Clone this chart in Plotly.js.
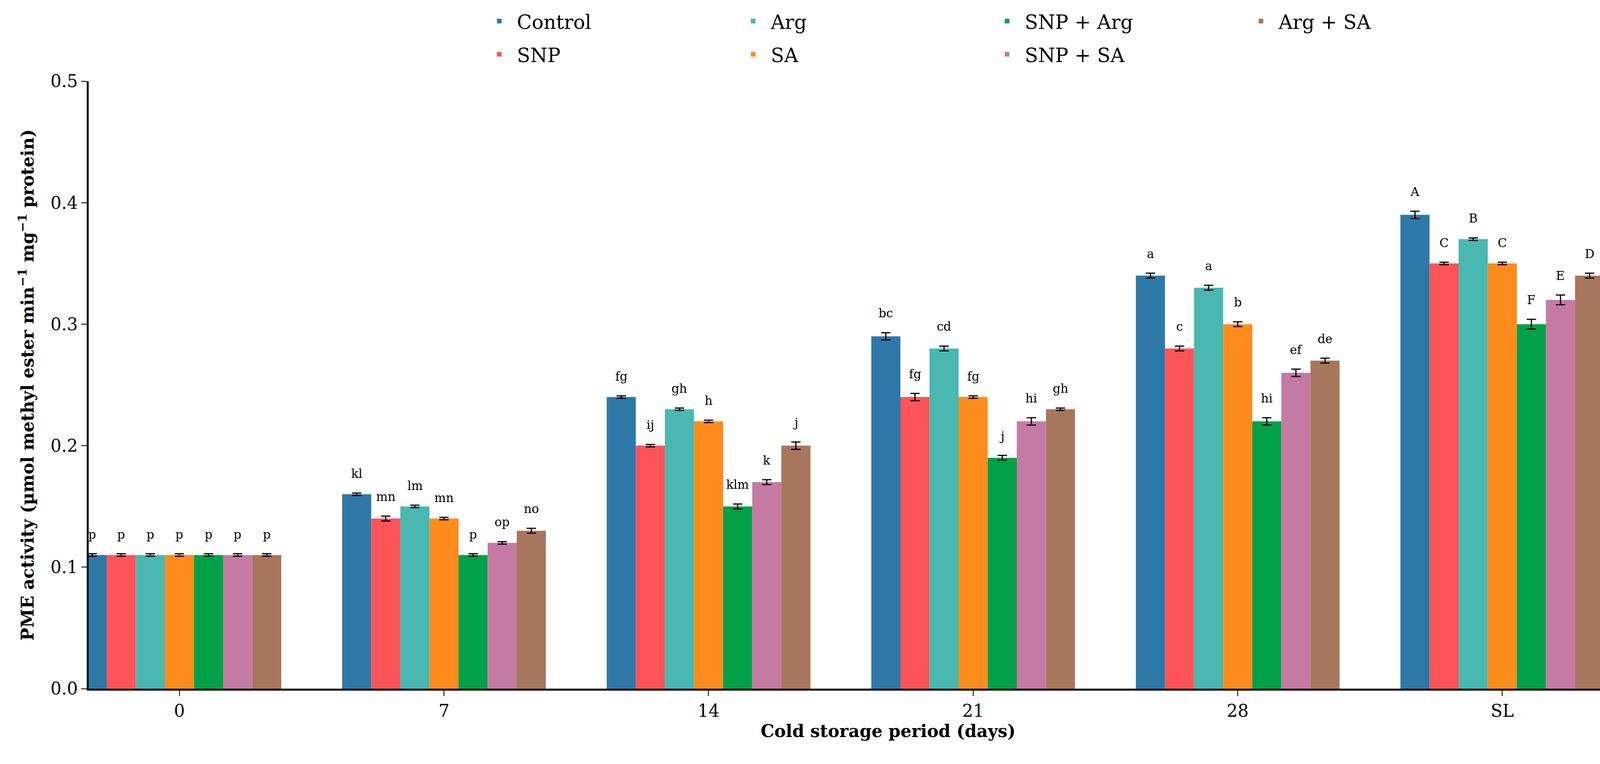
<!DOCTYPE html>
<html><head><meta charset="utf-8">
<script src="https://cdn.plot.ly/plotly-3.0.1.min.js"></script>
<style>body{margin:0}</style></head><body>
<div id="c" style="width:4342px;height:1957px"></div>
<script>
const categories = ["0","7","14","21","28","SL"];
const series = ["Control","SNP","Arg","SA","SNP + Arg","SNP + SA","Arg + SA"];
const colors = ["#2e78a8","#fc5459","#48b8b0","#fd8c1c","#03a04a","#c57aa3","#a8765c"];
const control = [0.11,0.16,0.24,0.29,0.34,0.39];
const snp     = [0.11,0.14,0.20,0.24,0.28,0.35];
const arg     = [0.11,0.15,0.23,0.28,0.33,0.37];
const sa      = [0.11,0.14,0.22,0.24,0.30,0.35];
const snpArg  = [0.11,0.11,0.15,0.19,0.22,0.30];
const snpSa   = [0.11,0.12,0.17,0.22,0.26,0.32];
const argSa   = [0.11,0.13,0.20,0.23,0.27,0.34];
const errControl = [0.001,0.001,0.001,0.003,0.002,0.003];
const errSnp     = [0.001,0.002,0.001,0.003,0.002,0.001];
const errArg     = [0.001,0.001,0.001,0.002,0.002,0.001];
const errSa      = [0.001,0.001,0.001,0.001,0.002,0.001];
const errSnpArg  = [0.001,0.001,0.002,0.002,0.003,0.004];
const errSnpSa   = [0.001,0.001,0.002,0.003,0.003,0.004];
const errArgSa   = [0.001,0.002,0.003,0.001,0.002,0.002];
const lblControl = ["p","kl","fg","bc","a","A"];
const lblSnp     = ["p","mn","ij","fg","c","C"];
const lblArg     = ["p","lm","gh","cd","a","B"];
const lblSa      = ["p","mn","h","fg","b","C"];
const lblSnpArg  = ["p","p","klm","j","hi","F"];
const lblSnpSa   = ["p","op","k","hi","ef","E"];
const lblArgSa   = ["p","no","j","gh","de","D"];
const vals=[control,snp,arg,sa,snpArg,snpSa,argSa];
const errs=[errControl,errSnp,errArg,errSa,errSnpArg,errSnpSa,errArgSa];
const lbls=[lblControl,lblSnp,lblArg,lblSa,lblSnpArg,lblSnpSa,lblArgSa];
const idx=categories.map((_,i)=>i);
const F="DejaVu Serif";
const row1=[0,2,4,6];
const traces=series.map((s,i)=>({
  type:"bar",name:s,x:idx,y:vals[i],
  marker:{color:colors[i]},
  error_y:{type:"data",array:errs[i],visible:true,color:"#000",thickness:3,width:12},
  legend: row1.includes(i)?"legend":"legend2"
}));
const annotations=[];
const n=series.length, gw=1-0.23, bw=gw/n;
series.forEach((s,i)=>{
  idx.forEach(j=>{
    annotations.push({xref:"x",yref:"y",x:j-gw/2+bw*(i+0.5),y:vals[i][j]+errs[i][j],
      text:lbls[i][j],showarrow:false,yanchor:"bottom",yshift:30,font:{family:F,size:31,color:"#000"}});
  });
});
const legBase={orientation:"h",xref:"container",yref:"container",x:0.284,xanchor:"left",yanchor:"top",
  font:{family:F,size:50},entrywidth:555,traceorder:"normal",itemwidth:80,bgcolor:"rgba(0,0,0,0)"};
const layout={
  width:4342,height:1957,paper_bgcolor:"#fff",plot_bgcolor:"#fff",
  margin:{l:227,r:22,t:208,b:193,autoexpand:false},
  barmode:"group",bargap:0.23,bargroupgap:0,
  font:{family:F,color:"#000"},
  xaxis:{range:[-0.343,5.70],autorange:false,tickvals:idx,ticktext:categories,showline:true,linecolor:"#000",linewidth:5,
    showgrid:false,zeroline:false,
    ticks:"outside",ticklen:14,tickwidth:3,tickfont:{family:F,size:44},
    title:{text:"<b>Cold storage period (days)</b>",font:{family:F,size:44},standoff:14}},
  yaxis:{range:[0,0.5],autorange:false,dtick:0.1,tickformat:".1f",showline:true,linecolor:"#000",linewidth:5,
    ticks:"outside",ticklen:14,tickwidth:3,showgrid:false,zeroline:false,tickfont:{family:F,size:44},
    title:{text:"<b>PME activity (µmol methyl ester min<sup>−1</sup> mg<sup>−1</sup> protein)</b>",font:{family:F,size:44},standoff:30}},
  legend:Object.assign({},legBase,{y:1-15/1957}),
  legend2:Object.assign({},legBase,{y:1-100/1957}),
  annotations:annotations,showlegend:true
};
Plotly.newPlot("c",traces,layout,{staticPlot:true});
</script></body></html>
